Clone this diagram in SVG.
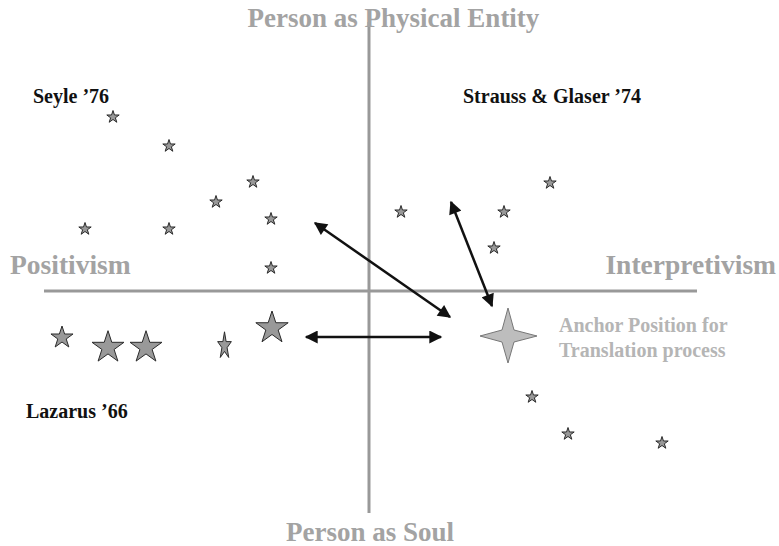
<svg xmlns="http://www.w3.org/2000/svg" width="779" height="546" viewBox="0 0 779 546">
<style>
.axis{stroke:#999;stroke-width:3;fill:none}
.title{font-family:"Liberation Serif",serif;font-weight:bold;fill:#a3a3a3;font-size:27px}
.side{font-family:"Liberation Serif",serif;font-weight:bold;fill:#a3a3a3;font-size:27.5px}
.lbl{font-family:"Liberation Serif",serif;font-weight:bold;fill:#111;font-size:20px}
.anc{font-family:"Liberation Serif",serif;font-weight:bold;fill:#b5b5b5;font-size:20px}
.star{fill:#999;stroke:#2a2a2a}
.conn{stroke:#111;stroke-width:2.5;fill:none;marker-start:url(#ah);marker-end:url(#ah)}
</style>
<defs>
<path id="st" vector-effect="non-scaling-stroke" stroke-width="1" d="M0,-1 L0.2245,-0.309 L0.951,-0.309 L0.363,0.118 L0.588,0.809 L0,0.382 L-0.588,0.809 L-0.363,0.118 L-0.951,-0.309 L-0.2245,-0.309 Z"/>
<marker id="ah" viewBox="0 0 10 10" refX="9" refY="5" markerWidth="5.6" markerHeight="5.2" orient="auto-start-reverse" markerUnits="strokeWidth">
<path d="M0,0 L10,5 L0,10 Z" fill="#111"/>
</marker>
</defs>
<rect width="779" height="546" fill="#fff"/>
<g id="axes">
<line class="axis" x1="44" y1="291" x2="697" y2="291"/>
<line class="axis" x1="369" y1="22" x2="369" y2="513"/>
</g>
<g id="labels">
<text class="title" x="393.5" y="27" text-anchor="middle">Person as Physical Entity</text>
<text class="title" x="370" y="541" text-anchor="middle">Person as Soul</text>
<text class="side" x="10" y="274">Positivism</text>
<text class="side" x="776" y="274" text-anchor="end">Interpretivism</text>
<text class="lbl" x="33" y="103">Seyle ’76</text>
<text class="lbl" x="463" y="103">Strauss &amp; Glaser ’74</text>
<text class="lbl" x="26" y="418">Lazarus ’66</text>
</g>
<g id="seyle">
<use href="#st" class="star" transform="translate(113,117) scale(6.5)"/>
<use href="#st" class="star" transform="translate(169,146) scale(6.5)"/>
<use href="#st" class="star" transform="translate(253,182) scale(6.5)"/>
<use href="#st" class="star" transform="translate(216,202) scale(6.5)"/>
<use href="#st" class="star" transform="translate(271,219) scale(6.5)"/>
<use href="#st" class="star" transform="translate(85,229) scale(6.5)"/>
<use href="#st" class="star" transform="translate(169,229) scale(6.5)"/>
<use href="#st" class="star" transform="translate(271,268) scale(6.5)"/>
</g>
<g id="strauss">
<use href="#st" class="star" transform="translate(401,212) scale(6.5)"/>
<use href="#st" class="star" transform="translate(504,212) scale(6.5)"/>
<use href="#st" class="star" transform="translate(550,183) scale(6.5)"/>
<use href="#st" class="star" transform="translate(494,248) scale(6.5)"/>
</g>
<g id="lazarus">
<use href="#st" class="star" transform="translate(62,337.6) scale(11.6)"/>
<use href="#st" class="star" transform="translate(108,347.5) scale(16.8)"/>
<use href="#st" class="star" transform="translate(146,347.5) scale(16.8)"/>
<use href="#st" class="star" transform="translate(224.5,346) scale(7.2,14.2)"/>
<use href="#st" class="star" transform="translate(272,328) scale(17)"/>
</g>
<g id="interp-lower">
<use href="#st" class="star" transform="translate(532,397) scale(6.5)"/>
<use href="#st" class="star" transform="translate(568,434) scale(6.5)"/>
<use href="#st" class="star" transform="translate(662,443) scale(6.5)"/>
</g>
<g id="anchor">
<path d="M508,308 L514,330 L537,336 L514,342 L508,363 L502,342 L480,336 L502,330 Z" fill="#bdbdbd" stroke="#777" stroke-width="1"/>
<text class="anc" x="559" y="332">Anchor Position for</text>
<text class="anc" x="559" y="357">Translation process</text>
</g>
<g id="connectors">
<line class="conn" x1="315" y1="223" x2="450" y2="317"/>
<line class="conn" x1="451" y1="202" x2="492" y2="306"/>
<line class="conn" x1="306" y1="337" x2="441" y2="337"/>
</g>
</svg>
